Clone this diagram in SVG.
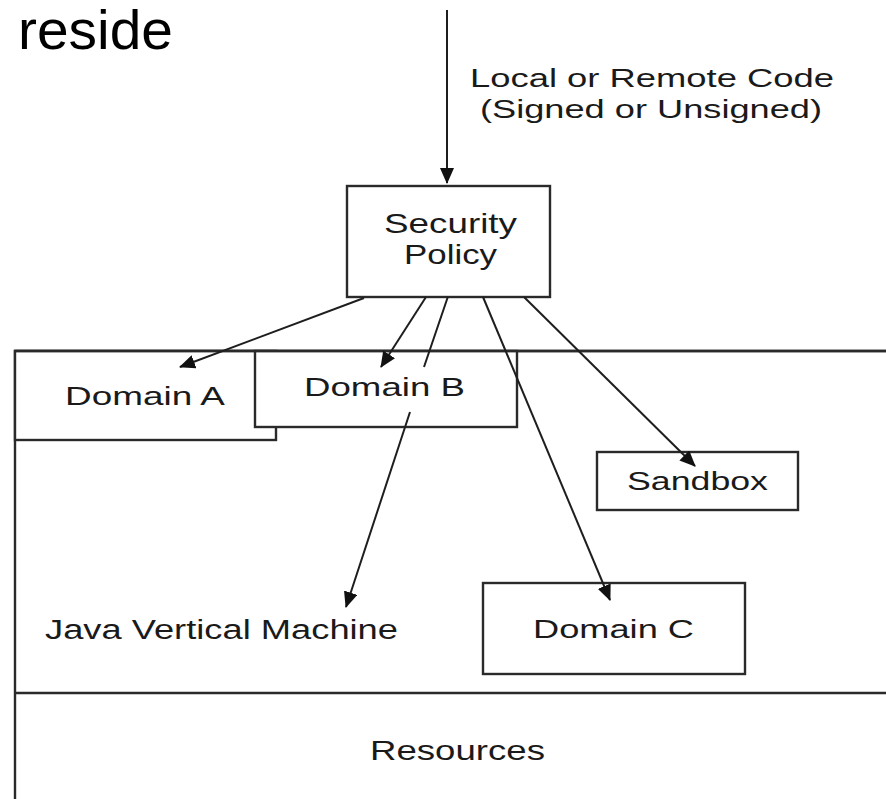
<svg xmlns="http://www.w3.org/2000/svg" width="886" height="799" viewBox="0 0 886 799">
<style>
.box{fill:#fff;stroke:#2a2a2a;stroke-width:2.4}
.frame{fill:none;stroke:#2a2a2a;stroke-width:2.4}
.con{fill:none;stroke:#1e1e1e;stroke-width:2}
text{font-family:"Liberation Sans",Arial,Helvetica,sans-serif;fill:#1a1a1a}
.lbl{font-size:26px}
</style>
<defs>
<marker id="ah" viewBox="0 0 16 14" refX="15" refY="7" markerWidth="16" markerHeight="14" markerUnits="userSpaceOnUse" orient="auto">
<path d="M0,0 L16,7 L0,14 z" fill="#111"/>
</marker>
</defs>
<rect width="886" height="799" fill="#fff"/>
<text x="18" y="49" font-size="55" textLength="155" lengthAdjust="spacingAndGlyphs" style="fill:#000">reside</text>
<text x="470" y="87" font-size="25" textLength="364" lengthAdjust="spacingAndGlyphs">Local or Remote Code</text>
<text x="480" y="118" font-size="25" textLength="342" lengthAdjust="spacingAndGlyphs">(Signed or Unsigned)</text>

<g id="jvm">
<path class="frame" d="M886,351 H15 V799 M15,693 H886"/>
<text x="45" y="639" font-size="27" textLength="353" lengthAdjust="spacingAndGlyphs">Java Vertical Machine</text>
</g>
<g id="resources">
<text x="370" y="760" font-size="27" textLength="175" lengthAdjust="spacingAndGlyphs">Resources</text>
</g>
<g id="security-policy">
<rect class="box" x="347" y="186" width="203" height="111"/>
<text x="384" y="233" font-size="28" textLength="133" lengthAdjust="spacingAndGlyphs">Security</text>
<text x="404" y="264" font-size="28" textLength="93" lengthAdjust="spacingAndGlyphs">Policy</text>
</g>
<g id="domain-a">
<rect class="box" x="15" y="351" width="261" height="89"/>
<text class="lbl" x="65" y="405" textLength="160" lengthAdjust="spacingAndGlyphs">Domain A</text>
</g>
<g id="domain-b">
<rect class="box" x="255" y="351" width="262" height="76"/>
<text class="lbl" x="304" y="396" textLength="161" lengthAdjust="spacingAndGlyphs">Domain B</text>
</g>
<path class="frame" d="M15,351 H886"/>
<g id="sandbox">
<rect class="box" x="597" y="452" width="201" height="58"/>
<text class="lbl" x="627" y="490" textLength="141" lengthAdjust="spacingAndGlyphs">Sandbox</text>
</g>
<g id="domain-c">
<rect class="box" x="483" y="583" width="262" height="91"/>
<text class="lbl" x="533" y="638" textLength="161" lengthAdjust="spacingAndGlyphs">Domain C</text>
</g>

<g id="connectors">
<path class="con" d="M447,10 V183" marker-end="url(#ah)"/>
<path class="con" d="M364,298 L180,367" marker-end="url(#ah)"/>
<path class="con" d="M426,297 L381,367" marker-end="url(#ah)"/>
<path class="con" d="M447.8,297 L424,367 M410,412 L346,607" marker-end="url(#ah)"/>
<path class="con" d="M483,297 L610,600" marker-end="url(#ah)"/>
<path class="con" d="M524,297 L695,466" marker-end="url(#ah)"/>
</g>
</svg>
